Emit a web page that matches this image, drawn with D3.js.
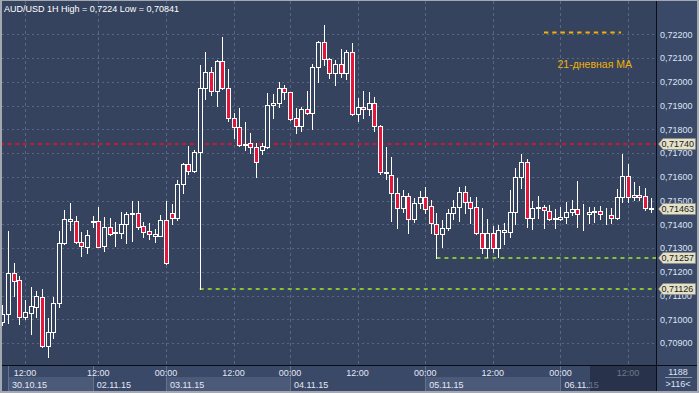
<!DOCTYPE html>
<html>
<head>
<meta charset="utf-8">
<title>AUD/USD 1H</title>
<script src="https://d3js.org/d3.v7.min.js"></script>
<style>
  body { margin: 0; background: #a4a9b1; }
  svg { display: block; font-family: "Liberation Sans", Arial, sans-serif; }
</style>
</head>
<body>
<svg id="chart" width="699" height="393"></svg>
<script>
// hourly candles, left to right
const opens = [
  0.70990, 0.71021, 0.71193, 0.71165, 0.71011, 0.71027, 0.71053, 0.71095, 0.70888, 0.70945,
  0.71067, 0.71320, 0.71415, 0.71415, 0.71324, 0.71305, 0.71410, 0.71415, 0.71308, 0.71387,
  0.71362, 0.71364, 0.71400, 0.71443, 0.71446, 0.71392, 0.71371, 0.71352, 0.71352, 0.71418,
  0.71446, 0.71427, 0.71568, 0.71652, 0.71625, 0.71703, 0.71976, 0.72042, 0.71962, 0.72088,
  0.71976, 0.71848, 0.71810, 0.71732, 0.71741, 0.71726, 0.71712, 0.71726, 0.71901, 0.71909,
  0.71976, 0.71955, 0.71848, 0.71815, 0.71884, 0.71867, 0.72063, 0.72168, 0.72094, 0.72035,
  0.72077, 0.72038, 0.72124, 0.71863, 0.71892, 0.71884, 0.71909, 0.71815, 0.71614, 0.71607,
  0.71530, 0.71470, 0.71519, 0.71423, 0.71488, 0.71513, 0.71477, 0.71400, 0.71358, 0.71383,
  0.71446, 0.71474, 0.71534, 0.71495, 0.71474, 0.71364, 0.71299, 0.71364, 0.71299, 0.71366,
  0.71366, 0.71453, 0.71598, 0.71661, 0.71427, 0.71467, 0.71474, 0.71457, 0.71423, 0.71423,
  0.71432, 0.71453, 0.71463, 0.71442, 0.71442, 0.71453, 0.71456, 0.71440, 0.71439, 0.71425,
  0.71513, 0.71603, 0.71516, 0.71522, 0.71519, 0.71470
];
const highs = [
  0.71060, 0.71371, 0.71237, 0.71182, 0.71081, 0.71134, 0.71119, 0.71127, 0.71004, 0.71095,
  0.71371, 0.71460, 0.71488, 0.71435, 0.71366, 0.71376, 0.71435, 0.71471, 0.71429, 0.71425,
  0.71410, 0.71450, 0.71453, 0.71498, 0.71498, 0.71408, 0.71406, 0.71379, 0.71439, 0.71498,
  0.71485, 0.71586, 0.71656, 0.71729, 0.71712, 0.72070, 0.72124, 0.72063, 0.72092, 0.72187,
  0.72052, 0.71867, 0.71888, 0.71829, 0.71783, 0.71743, 0.71743, 0.71951, 0.71948, 0.71999,
  0.71986, 0.71958, 0.71888, 0.71892, 0.71961, 0.72073, 0.72170, 0.72240, 0.72101, 0.72091,
  0.72136, 0.72133, 0.72162, 0.71930, 0.71961, 0.71955, 0.71937, 0.71820, 0.71724, 0.71682,
  0.71593, 0.71544, 0.71530, 0.71509, 0.71540, 0.71555, 0.71502, 0.71446, 0.71418, 0.71463,
  0.71502, 0.71558, 0.71561, 0.71516, 0.71513, 0.71467, 0.71422, 0.71392, 0.71397, 0.71406,
  0.71544, 0.71635, 0.71696, 0.71673, 0.71498, 0.71519, 0.71481, 0.71481, 0.71463, 0.71471,
  0.71495, 0.71502, 0.71582, 0.71485, 0.71474, 0.71474, 0.71477, 0.71467, 0.71467, 0.71547,
  0.71696, 0.71654, 0.71579, 0.71561, 0.71551, 0.71509
];
const lows = [
  0.70976, 0.70985, 0.71099, 0.70980, 0.71000, 0.70938, 0.71011, 0.70884, 0.70841, 0.70920,
  0.71053, 0.71315, 0.71376, 0.71320, 0.71267, 0.71280, 0.71389, 0.71303, 0.71288, 0.71354,
  0.71308, 0.71341, 0.71322, 0.71331, 0.71380, 0.71347, 0.71338, 0.71326, 0.71350, 0.71232,
  0.71400, 0.71420, 0.71533, 0.71611, 0.71621, 0.71126, 0.71927, 0.71944, 0.71898, 0.71969,
  0.71836, 0.71762, 0.71730, 0.71712, 0.71701, 0.71600, 0.71694, 0.71720, 0.71846, 0.71895,
  0.71927, 0.71839, 0.71783, 0.71792, 0.71865, 0.71800, 0.72000, 0.72070, 0.72014, 0.71986,
  0.72021, 0.72011, 0.71860, 0.71836, 0.71846, 0.71860, 0.71794, 0.71611, 0.71590, 0.71415,
  0.71383, 0.71453, 0.71362, 0.71408, 0.71467, 0.71446, 0.71362, 0.71257, 0.71305, 0.71376,
  0.71421, 0.71413, 0.71448, 0.71406, 0.71359, 0.71278, 0.71261, 0.71284, 0.71262, 0.71317,
  0.71345, 0.71400, 0.71551, 0.71389, 0.71379, 0.71425, 0.71385, 0.71418, 0.71385, 0.71418,
  0.71404, 0.71439, 0.71389, 0.71376, 0.71404, 0.71410, 0.71422, 0.71400, 0.71404, 0.71422,
  0.71495, 0.71495, 0.71502, 0.71502, 0.71460, 0.71453
];
const closes = [
  0.71022, 0.71193, 0.71162, 0.71011, 0.71029, 0.71056, 0.71098, 0.70888, 0.70945, 0.71067,
  0.71320, 0.71421, 0.71421, 0.71326, 0.71307, 0.71357, 0.71413, 0.71305, 0.71387, 0.71359,
  0.71368, 0.71400, 0.71443, 0.71447, 0.71389, 0.71368, 0.71358, 0.71358, 0.71418, 0.71235,
  0.71425, 0.71568, 0.71652, 0.71625, 0.71703, 0.71976, 0.72042, 0.71962, 0.72088, 0.71975,
  0.71848, 0.71810, 0.71733, 0.71738, 0.71726, 0.71661, 0.71729, 0.71901, 0.71909, 0.71976,
  0.71955, 0.71842, 0.71815, 0.71884, 0.71867, 0.72063, 0.72168, 0.72094, 0.72035, 0.72077,
  0.72035, 0.72124, 0.71863, 0.71892, 0.71884, 0.71909, 0.71815, 0.71619, 0.71619, 0.71530,
  0.71470, 0.71519, 0.71423, 0.71488, 0.71513, 0.71463, 0.71404, 0.71358, 0.71383, 0.71446,
  0.71474, 0.71534, 0.71495, 0.71470, 0.71364, 0.71299, 0.71364, 0.71301, 0.71376, 0.71376,
  0.71453, 0.71598, 0.71661, 0.71427, 0.71467, 0.71474, 0.71460, 0.71423, 0.71426, 0.71432,
  0.71453, 0.71463, 0.71442, 0.71444, 0.71453, 0.71456, 0.71442, 0.71438, 0.71425, 0.71513,
  0.71603, 0.71516, 0.71522, 0.71517, 0.71470, 0.71463
];

// x axis: bar index of each time tick and its label
const timeTickIdx = [4, 17, 29, 41, 51, 63, 75, 87, 99, 111];
const timeTickLabels = ["12:00", "12:00", "00:00", "12:00", "00:00", "12:00", "00:00", "12:00", "00:00", "12:00"];
// first bar of each day
const dayStartIdx = [1, 16, 29, 51, 75, 99];
const dayLabels = ["30.10.15", "02.11.15", "03.11.15", "04.11.15", "05.11.15", "06.11.15"];

// price axis
const priceTicks = d3.range(0.709, 0.72201, 0.001);

// horizontal levels: price, first bar, colour
const levelPrices = [0.71740, 0.71257, 0.71126];
const levelStartIdx = [0, 77, 35];
const levelColors = ["#cf1532", "#86c03a", "#86c03a"];
const lastPrice = 0.71463;

const title = "AUD/USD 1H High = 0,7224 Low = 0,70841";
const legendLabel = "21-дневная МА";
const barCount = "1188";
const visibleCount = ">116<";

const svg = d3.select("#chart");
const plotR = 656, plotB = 365;
const bg = "#35435f";

const n = closes.length;
const x = d3.scaleLinear().domain([0, n - 1]).range([2.46, 650.6]);
const y = d3.scaleLinear().domain([0.709, 0.722]).range([343.05, 34.3]);
const fmt = v => d3.format(".5f")(v).replace(".", ",");

// panels
svg.append("rect").attr("x", 2).attr("y", 1).attr("width", 695).attr("height", 390).attr("fill", "#3b4968");
svg.append("rect").attr("x", 2).attr("y", 1).attr("width", plotR - 2).attr("height", plotB - 1).attr("fill", bg);

svg.append("clipPath").attr("id", "plotclip")
  .append("rect").attr("x", 2).attr("y", 1).attr("width", plotR - 2).attr("height", plotB - 1);
const plot = svg.append("g").attr("clip-path", "url(#plotclip)");

// grid
plot.selectAll(".hg").data(priceTicks).join("line")
  .attr("x1", 2).attr("x2", plotR)
  .attr("y1", d => Math.round(y(d)) + 0.5).attr("y2", d => Math.round(y(d)) + 0.5)
  .attr("stroke", "#5a6784").attr("stroke-dasharray", "2,3");
plot.selectAll(".vg").data(timeTickIdx).join("line")
  .attr("x1", d => Math.round(x(d)) + 0.5).attr("x2", d => Math.round(x(d)) + 0.5)
  .attr("y1", 1).attr("y2", plotB)
  .attr("stroke", "#5a6784").attr("stroke-dasharray", "3,3");

// levels
plot.selectAll(".lvl").data(levelPrices).join("line")
  .attr("x1", (d, i) => levelStartIdx[i] === 0 ? 0 : x(levelStartIdx[i]))
  .attr("x2", plotR)
  .attr("y1", d => Math.round(y(d))).attr("y2", d => Math.round(y(d)))
  .attr("stroke", (d, i) => levelColors[i]).attr("stroke-width", 2)
  .attr("stroke-dasharray", (d, i) => i === 0 ? "4,3.6" : "4,4");

// candles
const idx = d3.range(n);
const cx = i => Math.round(x(i));
plot.selectAll(".wick").data(idx).join("line")
  .attr("x1", i => cx(i) + 0.5).attr("x2", i => cx(i) + 0.5)
  .attr("y1", i => Math.round(y(highs[i]))).attr("y2", i => Math.round(y(lows[i])) + 1)
  .attr("stroke", "#ffffff");
plot.selectAll(".body").data(idx).join("rect")
  .attr("x", i => cx(i) - 1.5)
  .attr("width", 4)
  .attr("y", i => Math.round(y(Math.max(opens[i], closes[i]))) + 0.5)
  .attr("height", i => Math.max(0, Math.round(y(Math.min(opens[i], closes[i]))) - Math.round(y(Math.max(opens[i], closes[i])))))
  .attr("fill", i => closes[i] < opens[i] ? "#e3163b" : bg)
  .attr("stroke", "#ffffff");

// legend
svg.append("line").attr("x1", 544).attr("x2", 621).attr("y1", 32.5).attr("y2", 32.5)
  .attr("stroke", "#f3b400").attr("stroke-width", 2).attr("stroke-dasharray", "4.3,4");
svg.append("text").attr("x", 557.5).attr("y", 67.5).attr("fill", "#f2b105")
  .attr("font-size", 10.5).text(legendLabel);

// title
svg.append("text").attr("x", 4).attr("y", 11.5).attr("fill", "#ffffff")
  .attr("font-size", 9).text(title);

// separators
svg.append("line").attr("x1", plotR + 0.5).attr("x2", plotR + 0.5).attr("y1", 1).attr("y2", 391).attr("stroke", "#0a0d14");
svg.append("line").attr("x1", 2).attr("x2", 697).attr("y1", plotB + 0.5).attr("y2", plotB + 0.5).attr("stroke", "#0a0d14");

// price axis
svg.selectAll(".pl").data(priceTicks).join("text")
  .attr("x", 660).attr("y", d => y(d) + 3.3)
  .attr("fill", "#dce4f4").attr("font-size", 9).text(fmt);

// price tags
const tagPrices = [0.71740, lastPrice, 0.71257, 0.71126];
const tags = svg.selectAll(".tag").data(tagPrices).join("g")
  .attr("transform", d => `translate(0,${Math.round(y(d))})`);
tags.append("path").attr("d", "M658.5,0 L663,-5.5 L695.5,-5.5 L695.5,5.5 L663,5.5 Z")
  .attr("fill", "#e4e1c9").attr("stroke", "#8e8c7a").attr("stroke-width", 0.6);
tags.append("text").attr("x", 661.5).attr("y", 3.3).attr("fill", "#1a1a1a")
  .attr("font-size", 9).text(fmt);

// time axis
const axisG = svg.append("g");
const bandEnd = dayStartIdx.map((d, i) => i < dayStartIdx.length - 1 ? x(dayStartIdx[i + 1]) : plotR);
axisG.selectAll(".db").data(dayStartIdx).join("rect")
  .attr("x", d => Math.round(x(d)))
  .attr("width", (d, i) => Math.round(bandEnd[i]) - Math.round(x(d)))
  .attr("y", 377).attr("height", 14)
  .attr("fill", (d, i) => i % 2 === 0 ? "#4c5a79" : "none");
axisG.selectAll(".ds").data(dayStartIdx).join("line")
  .attr("x1", d => Math.round(x(d)) + 0.5).attr("x2", d => Math.round(x(d)) + 0.5)
  .attr("y1", 366).attr("y2", 391).attr("stroke", "#66728e");
axisG.selectAll(".dl").data(dayStartIdx).join("text")
  .attr("x", d => x(d) + 4).attr("y", 387.5)
  .attr("fill", "#e2e8f5").attr("font-size", 9)
  .text((d, i) => dayLabels[i]);
axisG.selectAll(".tl").data(timeTickIdx).join("text")
  .attr("x", d => x(d)).attr("y", 376).attr("text-anchor", "middle")
  .attr("fill", "#e2e8f5").attr("font-size", 9)
  .text((d, i) => timeTickLabels[i]);
// shaded tail of the time axis
axisG.append("rect").attr("x", 590).attr("y", 366).attr("width", plotR - 590).attr("height", 25)
  .attr("fill", "#1c2439").attr("opacity", 0.6);

// bar counters
svg.append("text").attr("x", 678).attr("y", 375).attr("text-anchor", "middle")
  .attr("fill", "#dce4f4").attr("font-size", 9).text(barCount);
svg.append("line").attr("x1", 665).attr("x2", 692).attr("y1", 377.5).attr("y2", 377.5).attr("stroke", "#8d97ad");
svg.append("text").attr("x", 678).attr("y", 386.5).attr("text-anchor", "middle")
  .attr("fill", "#dce4f4").attr("font-size", 9).text(visibleCount);
</script>
</body>
</html>
